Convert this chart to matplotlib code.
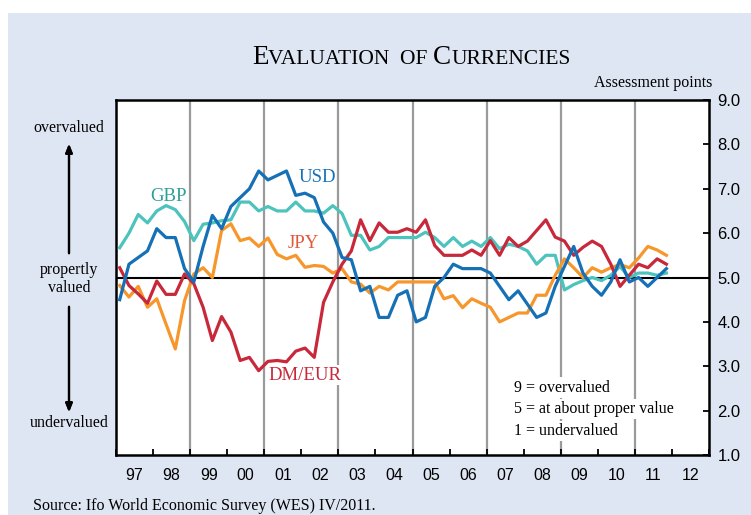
import numpy as np
import matplotlib.pyplot as plt
from matplotlib.patches import Rectangle

# quarterly survey results, 1997Q1 .. 2011Q4
years = [y for y in range(1997, 2012) for q in range(4)]
quarters = [q for y in range(1997, 2012) for q in range(1, 5)]

usd = [4.5, 5.3, 5.45, 5.6, 6.1, 5.9, 5.9, 5.2, 4.9, 5.7,
       6.4, 6.1, 6.6, 6.8, 7.0, 7.4, 7.2, 7.3, 7.4, 6.85,
       6.9, 6.8, 6.25, 6.0, 5.45, 5.4, 4.7, 4.8, 4.1, 4.1,
       4.6, 4.7, 4.0, 4.1, 4.8, 5.0, 5.3, 5.2, 5.2, 5.2,
       5.1, 4.8, 4.5, 4.7, 4.4, 4.1, 4.2, 4.8, 5.25, 5.7,
       5.1, 4.8, 4.6, 4.9, 5.4, 4.9, 5.0, 4.8, 5.0, 5.2]
gbp = [5.67, 6.0, 6.42, 6.23, 6.5, 6.62, 6.53, 6.26, 5.83, 6.2,
       6.23, 6.28, 6.3, 6.7, 6.7, 6.5, 6.6, 6.5, 6.5, 6.7,
       6.5, 6.5, 6.45, 6.62, 6.44, 5.95, 5.95, 5.62, 5.7, 5.9,
       5.9, 5.9, 5.9, 6.02, 5.9, 5.7, 5.9, 5.7, 5.82, 5.7,
       5.9, 5.65, 5.75, 5.7, 5.6, 5.3, 5.5, 5.5, 4.72, 4.84,
       4.93, 5.0, 4.93, 5.05, 5.25, 5.0, 5.1, 5.1, 5.05, 5.1]
jpy = [4.82, 4.56, 4.8, 4.33, 4.52, 3.95, 3.39, 4.48, 5.08, 5.22,
       5.0, 6.06, 6.21, 5.83, 5.89, 5.7, 5.89, 5.52, 5.42, 5.5,
       5.23, 5.27, 5.25, 5.1, 5.2, 4.9, 4.85, 4.65, 4.8, 4.72,
       4.9, 4.9, 4.9, 4.9, 4.9, 4.52, 4.59, 4.32, 4.52, 4.42,
       4.33, 4.0, 4.1, 4.2, 4.2, 4.6, 4.6, 5.05, 5.42, 5.22,
       5.0, 5.22, 5.12, 5.22, 5.29, 5.22, 5.44, 5.7, 5.62, 5.5]
dm_eur = [5.22, 4.82, 4.63, 4.42, 4.92, 4.62, 4.62, 5.08, 4.86, 4.33,
          3.58, 4.12, 3.77, 3.13, 3.2, 2.9, 3.11, 3.13, 3.1, 3.34,
          3.41, 3.2, 4.44, 4.9, 5.3, 5.6, 6.3, 5.83, 6.23, 6.02,
          6.02, 6.1, 6.02, 6.3, 5.72, 5.5, 5.5, 5.5, 5.62, 5.5,
          5.83, 5.5, 5.9, 5.7, 5.82, 6.06, 6.3, 5.91, 5.82, 5.5,
          5.68, 5.82, 5.7, 5.3, 4.8, 5.05, 5.3, 5.22, 5.42, 5.3]

year_labels = ["97", "98", "99", "00", "01", "02", "03", "04",
               "05", "06", "07", "08", "09", "10", "11", "12"]
ytick_vals = [1, 2, 3, 4, 5, 6, 7, 8, 9]

x = np.array(years) + (np.array(quarters) - 1) / 4 + 0.1

c_usd = "#1570b6"
c_gbp = "#4cc3bd"
c_jpy = "#f6962b"
c_dm = "#c7283a"
serif = "Liberation Serif"
sans = "Liberation Sans"
fs = 11.5

fig = plt.figure(figsize=(7.51, 5.15), dpi=100)
fig.patches.append(Rectangle((8 / 751, 0), 1, 1 - 13 / 515, transform=fig.transFigure,
                             facecolor="#dfe6f3", edgecolor="none", zorder=-1))

ax = fig.add_axes([116 / 751, 1 - 455 / 515, 593 / 751, 355 / 515])
ax.set_facecolor("white")
ax.set_xlim(1997, 2013)
ax.set_ylim(1, 9)

for yr in range(1999, 2013, 2):
    ax.axvline(yr, color="#9a9a9a", lw=1.6, zorder=1)
ax.axhline(5, color="black", lw=1.5, zorder=2)

ax.plot(x, gbp, color=c_gbp, lw=2.3, zorder=3)
ax.plot(x, jpy, color=c_jpy, lw=2.3, zorder=4)
ax.plot(x, dm_eur, color=c_dm, lw=2.3, zorder=5)
ax.plot(x, usd, color=c_usd, lw=2.3, zorder=6)

for s in ax.spines.values():
    s.set_linewidth(1.8)

ax.yaxis.tick_right()
ax.set_yticks(ytick_vals)
ax.set_yticklabels([f"{v:.1f}" for v in ytick_vals], fontfamily=sans, fontsize=12)
ax.tick_params(axis="y", direction="in", length=4, width=1.3, pad=6)

ax.set_xticks(range(1997, 2014))
ax.set_xticklabels([])
ax.set_xticks(np.arange(1997.5, 2013, 1), minor=True)
ax.set_xticklabels(year_labels, minor=True, fontfamily=sans, fontsize=11.5)
ax.tick_params(axis="x", which="major", direction="in", length=4, width=1.3)
ax.tick_params(axis="x", which="minor", length=0, pad=9)

# series names
ax.text(2001.92, 7.25, "USD", color=c_usd, fontfamily=serif, fontsize=13.5, va="center")
ax.text(1997.92, 6.82, "GBP", color="#2a9f98", fontfamily=serif, fontsize=13.5, va="center")
ax.text(2001.62, 5.77, "JPY", color="#e2583a", fontfamily=serif, fontsize=13.5, va="center")
ax.text(2001.1, 2.8, "DM/EUR", color=c_dm, fontfamily=serif, fontsize=13.5, va="center",
        bbox=dict(facecolor="white", edgecolor="none", pad=1))

notes = ["9 = overvalued", "5 = at about proper value", "1 = undervalued"]
for i, n in enumerate(notes):
    ax.text(2007.75, 2.52 - i * 0.49, n, fontfamily=serif, fontsize=fs, va="center",
            zorder=2, bbox=dict(facecolor="white", edgecolor="none", pad=1.5))

# title in small caps
title_y = 1 - 64 / 515
t1 = fig.text(252 / 751, title_y, "E", fontfamily=serif, fontsize=19.5, va="baseline")
t2 = fig.text(0, 0, "VALUATION  OF ", fontfamily=serif, fontsize=15.5)
t3 = fig.text(0, 0, "C", fontfamily=serif, fontsize=19.5)
t4 = fig.text(0, 0, "URRENCIES", fontfamily=serif, fontsize=15.5)
fig.canvas.draw()
r = fig.canvas.get_renderer()
xpos = t1.get_window_extent(r).x1
for t in (t2, t3, t4):
    t.set_position((xpos / fig.bbox.width, title_y))
    t.set_va("baseline")
    xpos = t.get_window_extent(r).x1

fig.text(712 / 751, 1 - 83 / 515, "Assessment points", fontfamily=serif, fontsize=fs,
         ha="right", va="center")

# valuation scale on the left
lx = 69 / 751
fig.text(lx, 1 - 128 / 515, "overvalued", fontfamily=serif, fontsize=fs, ha="center", va="center")
fig.text(lx, 1 - 279 / 515, "propertly\nvalued", fontfamily=serif, fontsize=fs, ha="center",
         va="center", linespacing=1.2)
fig.text(lx, 1 - 423 / 515, "undervalued", fontfamily=serif, fontsize=fs, ha="center", va="center")
arrow = dict(arrowstyle="-|>,head_length=0.5,head_width=0.2", color="black", lw=1.6)
fig.add_artist(plt.annotate("", xy=(lx, 1 - 141 / 515), xytext=(lx, 1 - 256 / 515),
                            xycoords="figure fraction", arrowprops=arrow))
fig.add_artist(plt.annotate("", xy=(lx, 1 - 415 / 515), xytext=(lx, 1 - 304 / 515),
                            xycoords="figure fraction", arrowprops=arrow))

fig.text(33 / 751, 1 - 510 / 515, "Source: Ifo World Economic Survey (WES) IV/2011.",
         fontfamily=serif, fontsize=fs, va="baseline")

fig.savefig("out.png", dpi=100)
